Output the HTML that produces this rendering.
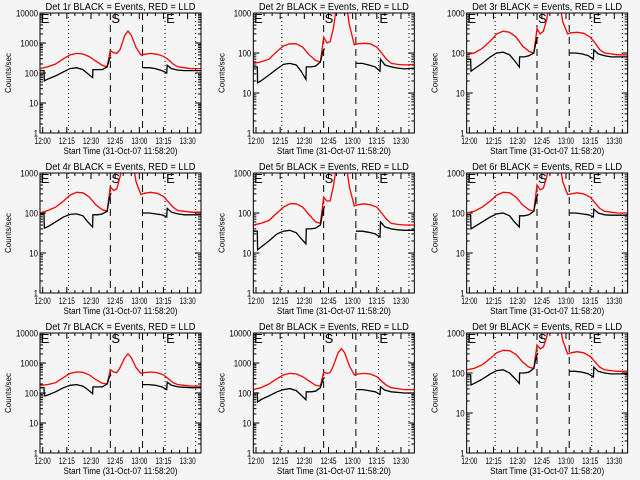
<!DOCTYPE html>
<html><head><meta charset="utf-8"><style>
body{margin:0;background:#f5f5f5;}
svg{display:block;font-family:"Liberation Sans",sans-serif;}
</style></head><body>
<svg id="c" width="640" height="480" viewBox="0 0 640 480"></svg>
<script>
const NS="http://www.w3.org/2000/svg";
const redTimes=[-1.7,3,8,13,17,21,25,29,33,37,40,42,44,46,48,51,53,55,58,61,63,67,71,75,78,81,84,88,92,98.3];
const blackTimes=[-1.7,0.8,1.0,3,8,13,17,21,25,28,31,31.2,34,37,40,41.5,42.5,52,62,66,70,74,77,77.3,80,84,88,92,98.3];
const xTickLabels=["12:00","12:15","12:30","12:45","13:00","13:15","13:30"];
const xTickMinutes=[0,15,30,45,60,75,90];
const dottedLines=[16,76];
const dashedLines=[42,62];
const detNames=["Det 1r","Det 2r","Det 3r","Det 4r","Det 5r","Det 6r","Det 7r","Det 8r","Det 9r"];
const yMaxDecade=[4,3,3,3,3,3,4,4,3];
const red1=[140,160,200,300,400,450,430,350,250,180,160,550,480,450,600,1800,2500,1800,700,400,420,450,420,360,280,200,160,150,140,140];
const black1=[120,120,55,62,80,110,140,150,130,95,70,130,130,130,160,300,350,null,150,150,140,120,100,180,140,125,120,120,120];
const red2=[55,60,70,110,150,170,170,140,90,65,60,250,180,190,400,3000,6000,3000,500,160,170,175,170,140,100,70,55,52,50,52];
const black2=[45,45,18,20,28,40,52,55,50,35,22,45,45,47,60,110,130,null,55,55,50,45,35,70,50,45,42,40,42];
const red3=[90,100,130,200,300,350,330,250,150,110,100,400,300,350,700,3000,6000,3000,600,300,320,330,310,250,180,120,100,95,90,90];
const black3=[70,70,35,40,55,80,100,105,90,65,45,80,80,85,100,200,250,null,100,100,95,85,70,120,95,85,80,80,80];
const red4=[100,115,140,200,280,330,320,250,160,120,110,450,370,400,800,3000,6000,3000,600,290,310,330,310,260,190,140,115,110,105,105];
const black4=[95,95,42,45,60,80,92,95,85,60,45,90,90,95,110,250,320,null,100,100,95,90,80,130,105,95,90,90,90];
const red5=[50,55,65,100,140,170,170,140,90,60,55,250,200,200,450,3000,6000,3000,450,150,160,170,160,140,100,70,55,52,50,50];
const black5=[35,35,12,14,20,30,35,37,32,23,17,40,40,42,50,110,150,null,35,35,33,30,25,60,45,40,38,37,37];
const red6=[100,110,140,200,280,330,320,250,160,120,110,500,380,420,800,3000,6000,3000,600,290,300,320,300,250,180,130,110,105,100,100];
const black6=[90,90,40,45,60,80,95,100,85,60,45,85,85,90,110,230,300,null,100,100,95,90,80,125,100,90,88,88,88];
const red7=[180,190,220,330,450,500,490,400,280,210,200,600,500,480,700,1500,2000,1500,700,450,480,500,480,400,300,220,190,180,170,170];
const black7=[150,150,80,85,110,150,180,190,170,130,95,160,160,160,200,350,400,null,190,190,180,160,130,230,180,160,155,150,150];
const red8=[130,150,200,300,400,450,430,350,250,180,170,500,450,480,800,2200,3000,2200,800,400,430,450,430,350,250,180,150,140,130,130];
const black8=[100,100,50,60,80,110,130,140,120,85,60,110,110,115,150,280,330,null,130,130,120,110,90,160,125,110,105,100,100];
const red9=[120,130,160,230,320,370,360,290,190,140,130,500,400,450,800,3000,6000,3000,650,300,320,340,320,260,190,140,120,115,110,110];
const black9=[90,90,50,55,70,95,115,120,100,75,55,100,100,105,130,250,320,null,110,110,105,95,80,140,110,100,95,95,95];
const redSeries=[red1,red2,red3,red4,red5,red6,red7,red8,red9];
const blackSeries=[black1,black2,black3,black4,black5,black6,black7,black8,black9];

const svg=document.getElementById('c');
function mk(tag,attrs,parent){const e=document.createElementNS(NS,tag);for(const k in attrs)e.setAttribute(k,attrs[k]);(parent||svg).appendChild(e);return e;}
const PW=161,PH=120,PXMIN=98.3+1.667;
for(let p=0;p<9;p++){
  const col=p%3,row=Math.floor(p/3);
  const L=40+213.33*col,T=13+160*row;
  const dec=yMaxDecade[p];
  const xs=t=>L+(t+1.667)/PXMIN*PW;
  const ys=v=>T+PH-Math.log10(v)/dec*PH;
  const g=mk('g',{});
  
  
  const cpEl=mk('clipPath',{id:'cp'+p},g);
  mk('rect',{x:L,y:T,width:PW,height:PH},cpEl);
  const ti=mk('text',{x:L+PW/2,y:T-3,'text-anchor':'middle','font-size':10,textLength:150,lengthAdjust:'spacingAndGlyphs',fill:'#000'},g);
  ti.textContent=detNames[p]+" BLACK = Events, RED = LLD";
  
  
  for(let d=0;d<=dec;d++){
    const y=ys(Math.pow(10,d));
    mk('line',{x1:L,x2:L+6,y1:y,y2:y,stroke:'#000'},g);
    mk('line',{x1:L+PW-6,x2:L+PW,y1:y,y2:y,stroke:'#000'},g);
    const s=String(Math.pow(10,d));
    const lb=mk('text',{x:L-2,y:y+3.5,'text-anchor':'end','font-size':9,textLength:s.length*4.4,lengthAdjust:'spacingAndGlyphs'},g);
    lb.textContent=s;
    
    
    if(d<dec)for(let m=2;m<10;m++){const ym=ys(m*Math.pow(10,d));
      mk('line',{x1:L,x2:L+3,y1:ym,y2:ym,stroke:'#000'},g);mk('line',{x1:L+PW-3,x2:L+PW,y1:ym,y2:ym,stroke:'#000'},g);}
  }
  const yt=mk('text',{x:0,y:0,'text-anchor':'middle','font-size':8,textLength:40,lengthAdjust:'spacingAndGlyphs',transform:`translate(${L-29},${T+PH/2}) rotate(-90)`},g);
  yt.textContent="Counts/sec";
  
  
  xTickMinutes.forEach((m,i)=>{const x=xs(m);
    mk('line',{x1:x,x2:x,y1:T+PH,y2:T+PH-6,stroke:'#000'},g);mk('line',{x1:x,x2:x,y1:T,y2:T+6,stroke:'#000'},g);
    const lb=mk('text',{x:x,y:T+PH+11,'text-anchor':'middle','font-size':9,textLength:16,lengthAdjust:'spacingAndGlyphs'},g);lb.textContent=xTickLabels[i];
    
    
  });
  for(let m=0;m<=95;m+=5){if(m%15){const x=xs(m);mk('line',{x1:x,x2:x,y1:T+PH,y2:T+PH-3,stroke:'#000'},g);mk('line',{x1:x,x2:x,y1:T,y2:T+3,stroke:'#000'},g);}}
  const xt=mk('text',{x:L+PW/2+0,y:T+PH+21,'text-anchor':'middle','font-size':9,textLength:114,lengthAdjust:'spacingAndGlyphs'},g);
  xt.textContent="Start Time (31-Oct-07 11:58:20)";
  
  
  dottedLines.forEach(m=>mk('line',{x1:xs(m),x2:xs(m),y1:T,y2:T+PH,stroke:'#000','stroke-dasharray':'1,3'},g));
  mk('line',{x1:xs(95),x2:xs(95),y1:T,y2:T+PH,stroke:'#000','stroke-dasharray':'1,3'},g);
  dashedLines.forEach(m=>mk('line',{x1:xs(m),x2:xs(m),y1:T,y2:T+PH,stroke:'#000','stroke-dasharray':'7,5'},g));
  [["E",xs(-1.2)],["S",xs(42)+1],["E",xs(76)+1]].forEach(a=>{const t=mk('text',{x:a[1],y:T+10,'font-size':13},g);t.textContent=a[0];
    
    });
  const cg=mk('g',{'clip-path':`url(#cp${p})`},g);
  let d='';redTimes.forEach((t,i)=>{d+=(i?'L':'M')+xs(t).toFixed(1)+','+ys(redSeries[p][i]).toFixed(1);});
  const rp=mk('path',{d:d,fill:'none',stroke:'#ff0000','stroke-width':1.3},cg);
  
  
  let db='',pen=false;blackTimes.forEach((t,i)=>{const v=blackSeries[p][i];if(v==null){pen=false;return;}
    db+=(pen?'L':'M')+xs(t).toFixed(1)+','+ys(v).toFixed(1);pen=true;});
  const bp=mk('path',{d:db,fill:'none',stroke:'#000','stroke-width':1.3},cg);
  
  
  const fr=mk('rect',{x:L,y:T,width:PW,height:PH,fill:'none',stroke:'#000'},g);
  
  
}
</script>
</body></html>
